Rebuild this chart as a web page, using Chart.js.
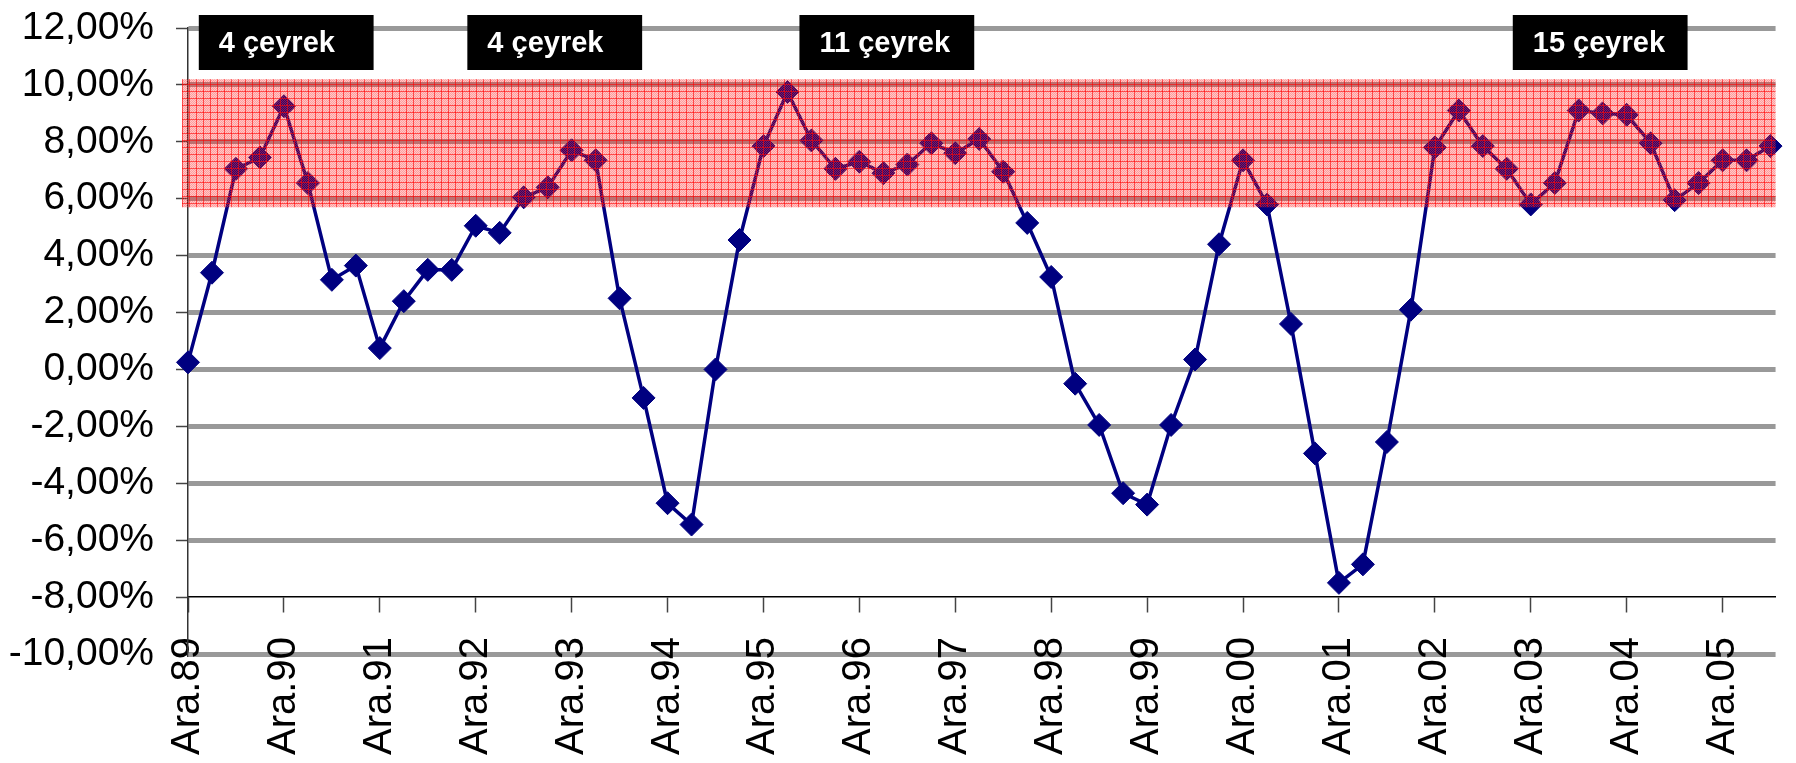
<!DOCTYPE html>
<html>
<head>
<meta charset="utf-8">
<script src="https://cdn.jsdelivr.net/npm/chart.js@4.4.1/dist/chart.umd.min.js"></script>
<style>
  html, body { margin: 0; padding: 0; background: #fff; }
  #chart { display: block; }
</style>
</head>
<body>
<canvas id="chart" width="1796" height="763"></canvas>
<script>
// Çeyreklik büyüme oranları (%), Ara.89 - Haz.06
const categories = [
  'Ara.89', 'Mar.90', 'Haz.90', 'Eyl.90', 'Ara.90', 'Mar.91', 'Haz.91', 'Eyl.91',
  'Ara.91', 'Mar.92', 'Haz.92', 'Eyl.92', 'Ara.92', 'Mar.93', 'Haz.93', 'Eyl.93',
  'Ara.93', 'Mar.94', 'Haz.94', 'Eyl.94', 'Ara.94', 'Mar.95', 'Haz.95', 'Eyl.95',
  'Ara.95', 'Mar.96', 'Haz.96', 'Eyl.96', 'Ara.96', 'Mar.97', 'Haz.97', 'Eyl.97',
  'Ara.97', 'Mar.98', 'Haz.98', 'Eyl.98', 'Ara.98', 'Mar.99', 'Haz.99', 'Eyl.99',
  'Ara.99', 'Mar.00', 'Haz.00', 'Eyl.00', 'Ara.00', 'Mar.01', 'Haz.01', 'Eyl.01',
  'Ara.01', 'Mar.02', 'Haz.02', 'Eyl.02', 'Ara.02', 'Mar.03', 'Haz.03', 'Eyl.03',
  'Ara.03', 'Mar.04', 'Haz.04', 'Eyl.04', 'Ara.04', 'Mar.05', 'Haz.05', 'Eyl.05',
  'Ara.05', 'Mar.06', 'Haz.06'
];

const growth = [
  0.25, 3.4, 7.05, 7.45, 9.25, 6.55, 3.15, 3.65,
  0.75, 2.4, 3.5, 3.5, 5.05, 4.8, 6.05, 6.4,
  7.7, 7.35, 2.5, -1.0, -4.7, -5.45, 0.0, 4.55,
  7.85, 9.75, 8.05, 7.05, 7.3, 6.9, 7.2, 7.95,
  7.6, 8.1, 6.95, 5.15, 3.25, -0.5, -1.95, -4.35,
  -4.75, -1.95, 0.35, 4.4, 7.35, 5.8, 1.6, -2.95,
  -7.5, -6.85, -2.55, 2.1, 7.8, 9.1, 7.85, 7.05,
  5.8, 6.55, 9.1, 9.0, 8.95, 7.95, 5.95, 6.55,
  7.35, 7.35, 7.85
];

// y ekseni
const yMin = -10;
const yMax = 12;
const yStep = 2;
const xAxisCross = -8;

// görünen son çeyrek (grafik sağda kesik)
const xMax = 66.21;

// kırmızı bant (% aralığı)
const bandRange = [5.7, 10.2];

// siyah etiket kutuları (çeyrek cinsinden başlangıç-bitiş)
const boxLabels = ['4 çeyrek', '4 çeyrek', '11 çeyrek', '15 çeyrek'];
const boxSpans = [[0.45, 7.74], [11.65, 18.94], [25.5, 32.79], [55.25, 62.54]];

const points = growth.map((v, i) => ({ x: i, y: v }));

function formatPct(v) {
  return v.toFixed(2).replace('.', ',') + '%';
}

function makeBandPattern(ctx) {
  const tile = document.createElement('canvas');
  tile.width = 7;
  tile.height = 7;
  const t = tile.getContext('2d');
  for (let i = 0; i < 7; i++) {
    for (let j = 0; j < 7; j++) {
      t.fillStyle = (i + j) % 2 ? 'rgba(255,0,0,0.22)' : 'rgba(255,60,60,0.5)';
      t.fillRect(i, j, 1, 1);
    }
  }
  t.fillStyle = 'rgba(255,0,0,0.58)';
  t.fillRect(0, 0, 7, 1);
  t.fillRect(0, 0, 1, 7);
  return ctx.createPattern(tile, 'repeat');
}

// bant ve kutular veri çizgisinin üstüne
const overlayPlugin = {
  id: 'overlay',
  afterDatasetsDraw(chart) {
    const { ctx, chartArea, scales: { x, y } } = chart;
    const top = y.getPixelForValue(bandRange[1]);
    const bottom = y.getPixelForValue(bandRange[0]);
    ctx.save();
    ctx.fillStyle = makeBandPattern(ctx);
    ctx.fillRect(chartArea.left - 6, top, chartArea.right - chartArea.left + 6, bottom - top);

    ctx.font = 'bold 29px "Liberation Sans", Arial, sans-serif';
    ctx.textBaseline = 'middle';
    ctx.textAlign = 'left';
    boxLabels.forEach((label, i) => {
      const x0 = x.getPixelForValue(boxSpans[i][0]);
      const x1 = x.getPixelForValue(boxSpans[i][1]);
      const boxTop = chartArea.top - 13;
      ctx.fillStyle = '#000';
      ctx.fillRect(x0, boxTop, x1 - x0, 55);
      ctx.fillStyle = '#fff';
      ctx.fillText(label, x0 + 20, boxTop + 29);
    });
    ctx.restore();
  }
};

const ctx = document.getElementById('chart').getContext('2d');
const chart = new Chart(ctx, {
  type: 'line',
  data: {
    datasets: [{
      data: points,
      borderColor: '#000080',
      borderWidth: 3.5,
      backgroundColor: '#000080',
      pointStyle: 'rectRot',
      pointRadius: 11.5,
      pointBorderWidth: 1,
      pointBorderColor: '#000080',
      pointBackgroundColor: '#000080',
      tension: 0,
      clip: false
    }]
  },
  options: {
    responsive: false,
    animation: false,
    devicePixelRatio: 1,
    layout: { padding: { top: 28, right: 0, bottom: 109, left: 0 } },
    plugins: {
      legend: { display: false },
      tooltip: { enabled: false }
    },
    scales: {
      x: {
        type: 'linear',
        position: { y: xAxisCross },
        min: 0,
        max: xMax,
        grid: {
          drawOnChartArea: false,
          drawTicks: true,
          tickLength: 15,
          tickColor: '#444',
          tickWidth: 1.5
        },
        border: { color: '#000', width: 1.5 },
        ticks: {
          stepSize: 4,
          includeBounds: false,
          autoSkip: false,
          maxRotation: 90,
          minRotation: 90,
          padding: 25,
          color: '#000',
          font: { family: '"Liberation Sans", Arial, sans-serif', size: 40 },
          callback: (v) => categories[v]
        }
      },
      y: {
        min: yMin,
        max: yMax,
        afterFit: (s) => {
          s.width = 188;
          s.paddingTop = 0;
          s.paddingBottom = 0;
        },
        grid: {
          color: (c) => (c.tick && c.tick.value === xAxisCross ? 'rgba(0,0,0,0)' : '#999999'),
          lineWidth: 5,
          tickLength: 12,
          tickColor: '#444',
          tickWidth: 1.5
        },
        border: { color: '#333', width: 1.5 },
        ticks: {
          stepSize: yStep,
          padding: 22,
          color: '#000',
          font: { family: '"Liberation Sans", Arial, sans-serif', size: 39 },
          callback: (v) => formatPct(v)
        }
      }
    }
  },
  plugins: [overlayPlugin]
});
</script>
</body>
</html>
